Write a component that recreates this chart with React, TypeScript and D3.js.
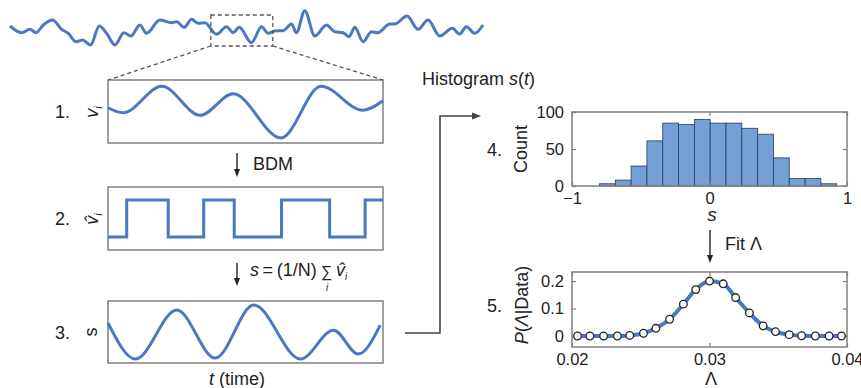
import * as d3 from 'd3';
import { useEffect, useRef } from 'react';

const BLUE = '#4a78c2';
const FRAME = '#808080';
const INK = '#222';
const FONT = '"Liberation Sans", Arial, Helvetica, sans-serif';

// raw recording across the top (time 0..1, amplitude 0..1)
const rawT = [0, 0.0246, 0.0423, 0.0549, 0.0704, 0.0901, 0.1092, 0.1232, 0.1394, 0.1535, 0.1704, 0.1887, 0.2042, 0.2218, 0.2408, 0.2556, 0.2746, 0.2887, 0.3169, 0.3415, 0.3521, 0.3683, 0.3838, 0.3979, 0.412, 0.4366, 0.4577, 0.4718, 0.4845, 0.5106, 0.5317, 0.5458, 0.5599, 0.5775, 0.5951, 0.6056, 0.6232, 0.6444, 0.669, 0.6866, 0.7042, 0.7169, 0.7289, 0.7465, 0.7641, 0.7782, 0.8028, 0.8134, 0.8394, 0.8627, 0.8838, 0.9085, 0.9352, 0.9507, 0.9648, 0.9824, 1];
const rawV = [0.564, 0.382, 0.473, 0.382, 0.591, 0.727, 0.473, 0.364, 0.136, 0.182, 0.045, 0.564, 0.364, 0.045, 0.382, 0.291, 0.591, 0.364, 0.727, 0.655, 0.682, 0.527, 0.745, 0.636, 0.655, 0.336, 0.545, 0.382, 0.527, 0.109, 0.545, 0.364, 0.427, 0.436, 0.618, 0.382, 0.982, 0.291, 0.591, 0.409, 0.382, 0.273, 0.527, 0.136, 0.409, 0.382, 0.618, 0.618, 0.836, 0.473, 0.727, 0.291, 0.5, 0.345, 0.545, 0.364, 0.591];
const zoomWindow = [0.4246, 0.5556];

// 1. v_i in the zoomed window
const v1T = [0, 0.055, 0.196, 0.335, 0.455, 0.629, 0.775, 0.927, 1];
const v1V = [0.56, 0.48, 0.9, 0.44, 0.78, 0.08, 0.9, 0.52, 0.67];

// 2. BDM output: switching times and states
const bdmT = [0, 0.068, 0.219, 0.348, 0.459, 0.631, 0.806, 0.935, 1];
const bdmV = [0, 1, 0, 1, 0, 1, 0, 1, 1];

// 3. s(t)
const sT = [0, 0.1, 0.25, 0.39, 0.53, 0.7, 0.82, 0.91, 0.99];
const sV = [0.645, 0.065, 0.855, 0.08, 0.935, 0.065, 0.53, 0.145, 0.61];

// 4. histogram of s
const histLo = [-0.8, -0.685, -0.57, -0.455, -0.34, -0.225, -0.11, 0.005, 0.12, 0.235, 0.35, 0.465, 0.58, 0.695, 0.81];
const histCounts = [3, 8, 27, 61, 85, 83, 90, 85, 85, 78, 70, 38, 10, 10, 3];
const histWidth = 0.115;
const histXTicks = [-1, 0, 1];
const histYTicks = [0, 50, 100];

// 5. posterior over Lambda
const lamX = [0.0204, 0.0213, 0.0223, 0.0233, 0.0242, 0.0252, 0.0261, 0.0271, 0.0281, 0.029, 0.03, 0.031, 0.0319, 0.0329, 0.0339, 0.0348, 0.0358, 0.0367, 0.0377, 0.0387, 0.0396];
const lamP = [0, 0, 0, 0, 0.002, 0.01, 0.028, 0.061, 0.116, 0.169, 0.2, 0.19, 0.14, 0.084, 0.037, 0.016, 0.005, 0.001, 0, 0, 0];
const lamXTicks = [0.02, 0.03, 0.04];
const lamYTicks = [0, 0.1, 0.2];

const App = () => {
    const ref = useRef<any>();

    useEffect(() => {
        const svg = d3.select(ref.current);
        svg.selectAll('*').remove();
        svg.attr('width', 861).attr('height', 388)
            .style('font-family', FONT);

        const arrowDown = (x: number, y0: number, y1: number) => {
            svg.append('line').attr('x1', x).attr('x2', x).attr('y1', y0).attr('y2', y1 - 6)
                .attr('stroke', INK).attr('stroke-width', 1.4);
            svg.append('path').attr('d', `M${x - 3},${y1 - 8}L${x},${y1}L${x + 3},${y1 - 8}Z`).attr('fill', INK);
        };

        // ---- top strip
        const rx = d3.scaleLinear().domain([0, 1]).range([10, 483]);
        const ry = d3.scaleLinear().domain([0, 1]).range([46.7, 10]);
        svg.append('path')
            .datum(rawT.map((t, i) => [t, rawV[i]]))
            .attr('d', d3.line().x((d: any) => rx(d[0])).y((d: any) => ry(d[1])).curve(d3.curveMonotoneX) as any)
            .attr('fill', 'none').attr('stroke', BLUE).attr('stroke-width', 3);

        const bx0 = rx(zoomWindow[0]), bx1 = rx(zoomWindow[1]);
        svg.append('rect').attr('x', bx0).attr('y', 15).attr('width', bx1 - bx0).attr('height', 31)
            .attr('fill', 'none').attr('stroke', '#555').attr('stroke-width', 1.3).attr('stroke-dasharray', '4,3');

        // ---- left panels
        const px = d3.scaleLinear().domain([0, 1]).range([108, 383]);
        const panels = [
            { top: 80, bottom: 143, label: '1.' },
            { top: 187, bottom: 250, label: '2.' },
            { top: 301, bottom: 363, label: '3.' }
        ];
        panels.forEach((p) => {
            svg.append('rect').attr('x', px(0)).attr('y', p.top).attr('width', px(1) - px(0)).attr('height', p.bottom - p.top)
                .attr('fill', 'none').attr('stroke', FRAME).attr('stroke-width', 1.5);
            svg.append('text').attr('x', 55).attr('y', (p.top + p.bottom) / 2 + 6.5).attr('font-size', 18).attr('fill', INK).text(p.label);
        });

        svg.append('line').attr('x1', bx0).attr('y1', 46).attr('x2', px(0)).attr('y2', 80)
            .attr('stroke', '#555').attr('stroke-width', 1.3).attr('stroke-dasharray', '4,3');
        svg.append('line').attr('x1', bx1).attr('y1', 46).attr('x2', px(1)).attr('y2', 80)
            .attr('stroke', '#555').attr('stroke-width', 1.3).attr('stroke-dasharray', '4,3');

        const y1 = d3.scaleLinear().domain([0, 1]).range([143, 80]);
        svg.append('path').datum(v1T.map((t, i) => [t, v1V[i]]))
            .attr('d', d3.line().x((d: any) => px(d[0])).y((d: any) => y1(d[1])).curve(d3.curveMonotoneX) as any)
            .attr('fill', 'none').attr('stroke', BLUE).attr('stroke-width', 3);

        const y2 = d3.scaleLinear().domain([-0.35, 1.35]).range([250, 187]);
        svg.append('path').datum(bdmT.map((t, i) => [t, bdmV[i]]))
            .attr('d', d3.line().x((d: any) => px(d[0])).y((d: any) => y2(d[1])).curve(d3.curveStepAfter) as any)
            .attr('fill', 'none').attr('stroke', BLUE).attr('stroke-width', 3);

        const y3 = d3.scaleLinear().domain([0, 1]).range([363, 301]);
        svg.append('path').datum(sT.map((t, i) => [t, sV[i]]))
            .attr('d', d3.line().x((d: any) => px(d[0])).y((d: any) => y3(d[1])).curve(d3.curveMonotoneX) as any)
            .attr('fill', 'none').attr('stroke', BLUE).attr('stroke-width', 3);

        // rotated y labels of the left panels
        const vLab = svg.append('text').attr('transform', `translate(98,112) rotate(-90)`)
            .attr('text-anchor', 'middle').attr('font-size', 18).attr('fill', INK);
        vLab.append('tspan').attr('font-style', 'italic').text('v');
        vLab.append('tspan').attr('font-style', 'italic').attr('font-size', 11).attr('dy', 4).text('i');

        const vhLab = svg.append('text').attr('transform', `translate(98,219) rotate(-90)`)
            .attr('text-anchor', 'middle').attr('font-size', 18).attr('fill', INK);
        vhLab.append('tspan').attr('font-style', 'italic').text('v\u0302');
        vhLab.append('tspan').attr('font-style', 'italic').attr('font-size', 11).attr('dy', 4).text('i');

        svg.append('text').attr('transform', `translate(97,332) rotate(-90)`)
            .attr('text-anchor', 'middle').attr('font-size', 18).attr('fill', INK).text('s');

        // arrows between the left panels
        arrowDown(237, 153, 177);
        svg.append('text').attr('x', 253).attr('y', 170).attr('font-size', 18).attr('fill', INK).text('BDM');

        arrowDown(237, 263, 286);
        const f = svg.append('text').attr('x', 250).attr('y', 276).attr('font-size', 18).attr('fill', INK);
        f.append('tspan').attr('font-style', 'italic').text('s');
        f.append('tspan').text('\u2009=\u2009(1/N)');
        svg.append('text').attr('x', 321).attr('y', 277).attr('font-size', 16).attr('fill', INK).text('\u2211');
        svg.append('text').attr('x', 326).attr('y', 291).attr('font-size', 10).attr('font-style', 'italic').attr('fill', INK).text('i');
        const vh = svg.append('text').attr('x', 336).attr('y', 276).attr('font-size', 18).attr('fill', INK);
        vh.append('tspan').attr('font-style', 'italic').text('v\u0302');
        vh.append('tspan').attr('font-style', 'italic').attr('font-size', 10).attr('dy', 4).text('i');

        svg.append('text').attr('x', 237).attr('y', 385).attr('text-anchor', 'middle').attr('font-size', 18).attr('fill', INK)
            .call((t: any) => {
                t.append('tspan').attr('font-style', 'italic').text('t');
                t.append('tspan').text(' (time)');
            });

        // connector from 3 to 4
        svg.append('path').attr('d', 'M405,333H440V116H474').attr('fill', 'none').attr('stroke', '#444').attr('stroke-width', 1.6);
        svg.append('path').attr('d', 'M472,112.5L481,116L472,119.5Z').attr('fill', '#444');

        const h = svg.append('text').attr('x', 422).attr('y', 85).attr('font-size', 18).attr('fill', INK);
        h.append('tspan').text('Histogram ');
        h.append('tspan').attr('font-style', 'italic').text('s');
        h.append('tspan').text('(');
        h.append('tspan').attr('font-style', 'italic').text('t');
        h.append('tspan').text(')');

        // ---- framed axes helper (MATLAB style box, inward ticks)
        const frame = (x: any, y: any, xt: number[], yt: number[], xf: any, yf: any) => {
            const [l, r] = x.range();
            const [b, t] = y.range();
            const g = svg.append('g');
            g.append('g').attr('transform', `translate(0,${b})`)
                .call(d3.axisBottom(x).tickValues(xt).tickSizeInner(-4).tickSizeOuter(0).tickPadding(6).tickFormat(xf));
            g.append('g').attr('transform', `translate(0,${t})`)
                .call(d3.axisTop(x).tickValues(xt).tickSizeInner(-4).tickSizeOuter(0).tickFormat(() => ''));
            g.append('g').attr('transform', `translate(${l},0)`)
                .call(d3.axisLeft(y).tickValues(yt).tickSizeInner(-4).tickSizeOuter(0).tickPadding(8).tickFormat(yf));
            g.append('g').attr('transform', `translate(${r},0)`)
                .call(d3.axisRight(y).tickValues(yt).tickSizeInner(-4).tickSizeOuter(0).tickFormat(() => ''));
            g.selectAll('.domain').remove();
            g.selectAll('.tick line').attr('stroke', FRAME).attr('stroke-width', 1.2);
            g.selectAll('.tick text').attr('font-size', 16.5).attr('font-family', FONT).attr('fill', INK);
            g.append('rect').attr('x', l).attr('y', t).attr('width', r - l).attr('height', b - t)
                .attr('fill', 'none').attr('stroke', FRAME).attr('stroke-width', 1.5);
        };

        // ---- 4. histogram
        const hx = d3.scaleLinear().domain([-1, 1]).range([572, 847]);
        const hy = d3.scaleLinear().domain([0, 100]).range([186, 112]);
        svg.append('g').selectAll('rect').data(histLo).join('rect')
            .attr('x', (d: any) => hx(d))
            .attr('width', hx(histWidth) - hx(0))
            .attr('y', (d: any, i: number) => hy(histCounts[i]))
            .attr('height', (d: any, i: number) => hy(0) - hy(histCounts[i]))
            .attr('fill', '#72a0d6').attr('stroke', '#2c3b52').attr('stroke-width', 0.8);
        frame(hx, hy, histXTicks, histYTicks, d3.format('d'), d3.format('d'));
        svg.append('text').attr('transform', 'translate(527,149) rotate(-90)').attr('text-anchor', 'middle')
            .attr('font-size', 18).attr('fill', INK).text('Count');
        svg.append('text').attr('x', 487).attr('y', 156).attr('font-size', 18).attr('fill', INK).text('4.');
        svg.append('text').attr('x', 712).attr('y', 221).attr('text-anchor', 'middle').attr('font-size', 19)
            .attr('font-style', 'italic').attr('fill', INK).text('s');

        arrowDown(710, 230, 263);
        svg.append('text').attr('x', 725).attr('y', 250).attr('font-size', 18).attr('fill', INK).text('Fit \u039B');

        // ---- 5. posterior
        const lx = d3.scaleLinear().domain([0.02, 0.04]).range([572, 847]);
        const ly = d3.scaleLinear().domain([-0.04, 0.233]).range([347, 272]);
        frame(lx, ly, lamXTicks, lamYTicks, d3.format('.2f'), (d: any) => (d === 0 ? '0' : d3.format('.1f')(d)));
        svg.append('path').datum(lamX.map((x, i) => [x, lamP[i]]))
            .attr('d', d3.line().x((d: any) => lx(d[0])).y((d: any) => ly(d[1])).curve(d3.curveMonotoneX) as any)
            .attr('fill', 'none').attr('stroke', BLUE).attr('stroke-width', 4);
        svg.append('g').selectAll('circle').data(lamX).join('circle')
            .attr('cx', (d: any) => lx(d)).attr('cy', (d: any, i: number) => ly(lamP[i])).attr('r', 3.8)
            .attr('fill', '#fff').attr('stroke', INK).attr('stroke-width', 1.3);
        const pl = svg.append('text').attr('transform', 'translate(528,305) rotate(-90)').attr('text-anchor', 'middle')
            .attr('font-size', 18).attr('fill', INK);
        pl.append('tspan').attr('font-style', 'italic').text('P');
        pl.append('tspan').text('(');
        pl.append('tspan').attr('font-style', 'italic').text('\u039B');
        pl.append('tspan').text('|Data)');
        svg.append('text').attr('x', 487).attr('y', 312).attr('font-size', 18).attr('fill', INK).text('5.');
        svg.append('text').attr('x', 711).attr('y', 385).attr('text-anchor', 'middle').attr('font-size', 18)
            .attr('fill', INK).text('\u039B');
    }, []);

    return (
        <svg ref={ref} style={{ position: 'absolute', left: 0, top: 0, background: '#fff' }}></svg>
    );
};

export default App;
